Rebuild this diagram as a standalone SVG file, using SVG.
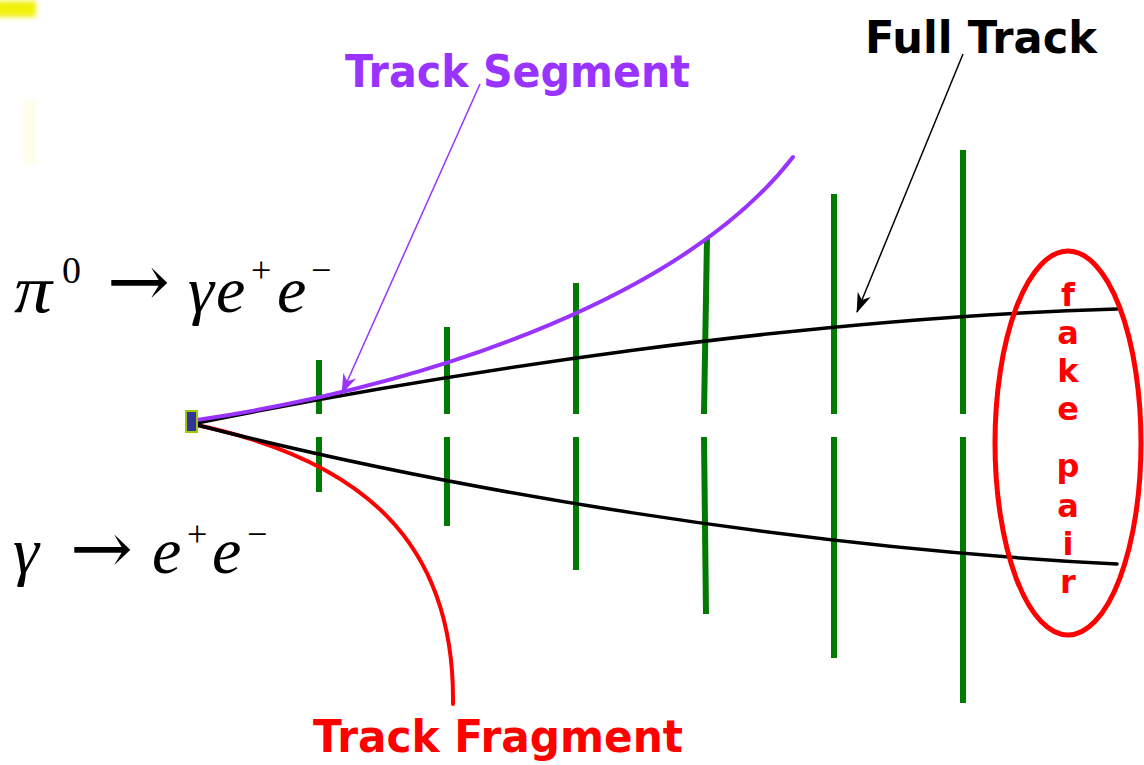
<svg xmlns="http://www.w3.org/2000/svg" width="1144" height="765" viewBox="0 0 1144 765">
  <style>
    .label { font-family: "Comic Sans MS", "DejaVu Sans", sans-serif; font-weight: bold; }
    .math { font-family: "Liberation Serif", "DejaVu Serif", serif; fill: #000; }
    .it { font-style: italic; }
    .arrowglyph { font-family: "DejaVu Serif", serif; fill: #000; }
    .bar { stroke: #007a00; stroke-width: 6; fill: none; }
    .trk { fill: none; stroke-linecap: round; }
  </style>
  <defs>
    <filter id="blur" x="-50%" y="-50%" width="200%" height="200%">
      <feGaussianBlur stdDeviation="2.5"/>
    </filter>
    <marker id="arrPurple" viewBox="0 0 20 14" refX="19" refY="7" markerWidth="20" markerHeight="14" markerUnits="userSpaceOnUse" orient="auto">
      <path d="M0,0 L20,7 L0,14 L6,7 z" fill="#9933ff"/>
    </marker>
    <marker id="arrBlack" viewBox="0 0 20 14" refX="19" refY="7" markerWidth="20" markerHeight="14" markerUnits="userSpaceOnUse" orient="auto">
      <path d="M0,0 L20,7 L0,14 L6,7 z" fill="#000"/>
    </marker>
  </defs>

  <rect width="1144" height="765" fill="#ffffff"/>
  <!-- faint yellow smudge top-left -->
  <rect x="-4" y="1" width="40" height="16" fill="#f0f000" opacity="0.95" filter="url(#blur)"/>
  <rect x="24" y="100" width="12" height="65" fill="#fbfbd0" opacity="0.5" filter="url(#blur)"/>

  <!-- detector planes -->
  <g id="detector">
    <line class="bar" x1="319" y1="360" x2="319" y2="414"/>
    <line class="bar" x1="319" y1="437" x2="319" y2="492"/>
    <line class="bar" x1="447" y1="327" x2="447" y2="414"/>
    <line class="bar" x1="447" y1="437" x2="447" y2="526"/>
    <line class="bar" x1="576" y1="283" x2="576" y2="414"/>
    <line class="bar" x1="576" y1="437" x2="576" y2="570"/>
    <line class="bar" x1="707" y1="238" x2="704" y2="414"/>
    <line class="bar" x1="704" y1="437" x2="706" y2="614"/>
    <line class="bar" x1="834" y1="194" x2="834" y2="414"/>
    <line class="bar" x1="834" y1="437" x2="834" y2="658"/>
    <line class="bar" x1="963" y1="150" x2="963" y2="414"/>
    <line class="bar" x1="963" y1="437" x2="963" y2="703"/>
  </g>

  <!-- tracks -->
  <g id="tracks">
    <path id="fragment" class="trk" d="M197,425 C360,460 455,540 453,704" stroke="#ff0000" stroke-width="4"/>
    <path id="full-upper" class="trk" d="M197,423 C450,372 800,318 1117,309" stroke="#000" stroke-width="3.5"/>
    <path id="full-lower" class="trk" d="M197,425 C450,490 800,548 1117,564" stroke="#000" stroke-width="3.5"/>
    <path id="segment" class="trk" d="M197,420 C450,382 690,290 793,157" stroke="#9933ff" stroke-width="4"/>
  </g>

  <!-- vertex -->
  <g id="vertex">
    <rect x="186" y="411" width="11" height="21" fill="#333399" stroke="#99cc00" stroke-width="2"/>
  </g>

  <!-- fake pair ellipse -->
  <g id="fake-pair">
    <ellipse cx="1068" cy="443" rx="73" ry="192" fill="none" stroke="#ff0000" stroke-width="5"/>
    <g class="label" fill="#ff0000" font-size="32" text-anchor="middle">
      <text x="1068" y="306">f</text>
      <text x="1068" y="344">a</text>
      <text x="1068" y="382">k</text>
      <text x="1068" y="420">e</text>
      <text x="1068" y="477">p</text>
      <text x="1068" y="517">a</text>
      <text x="1068" y="555">i</text>
      <text x="1068" y="593">r</text>
    </g>
  </g>

  <!-- connectors (label pointers) -->
  <g id="connectors">
    <line x1="480" y1="84" x2="342" y2="393" stroke="#9933ff" stroke-width="1.5" marker-end="url(#arrPurple)"/>
    <line x1="963" y1="54" x2="857" y2="312" stroke="#000" stroke-width="1.5" marker-end="url(#arrBlack)"/>
  </g>

  <!-- labels -->
  <g id="label-full-track">
    <text class="label" x="865" y="53" font-size="44" fill="#000" textLength="232" lengthAdjust="spacingAndGlyphs">Full Track</text>
  </g>
  <g id="label-track-segment">
    <text class="label" x="345" y="87" font-size="44" fill="#9933ff" textLength="345" lengthAdjust="spacingAndGlyphs">Track Segment</text>
  </g>
  <g id="label-track-fragment">
    <text class="label" x="313" y="752" font-size="44" fill="#ff0000" textLength="370" lengthAdjust="spacingAndGlyphs">Track Fragment</text>
  </g>

  <!-- formulas -->
  <g id="formula-pi0">
    <text class="math it" x="14" y="312" font-size="68" textLength="38" lengthAdjust="spacingAndGlyphs">π</text>
    <text class="math" x="62" y="283" font-size="38">0</text>
    <text class="arrowglyph" x="107" y="306" font-size="72" textLength="63" lengthAdjust="spacingAndGlyphs">→</text>
    <text class="math it" x="188" y="312" font-size="66">γ</text>
    <text class="math it" x="216" y="312" font-size="66">e</text>
    <text class="math" x="251" y="282" font-size="36">+</text>
    <text class="math it" x="277" y="312" font-size="66">e</text>
    <text class="math" x="311" y="282" font-size="36">−</text>
  </g>
  <g id="formula-gamma">
    <text class="math it" x="13" y="573" font-size="66">γ</text>
    <text class="arrowglyph" x="70" y="573" font-size="72" textLength="63" lengthAdjust="spacingAndGlyphs">→</text>
    <text class="math it" x="152" y="573" font-size="66">e</text>
    <text class="math" x="187" y="546" font-size="36">+</text>
    <text class="math it" x="212" y="573" font-size="66">e</text>
    <text class="math" x="247" y="546" font-size="36">−</text>
  </g>
</svg>
